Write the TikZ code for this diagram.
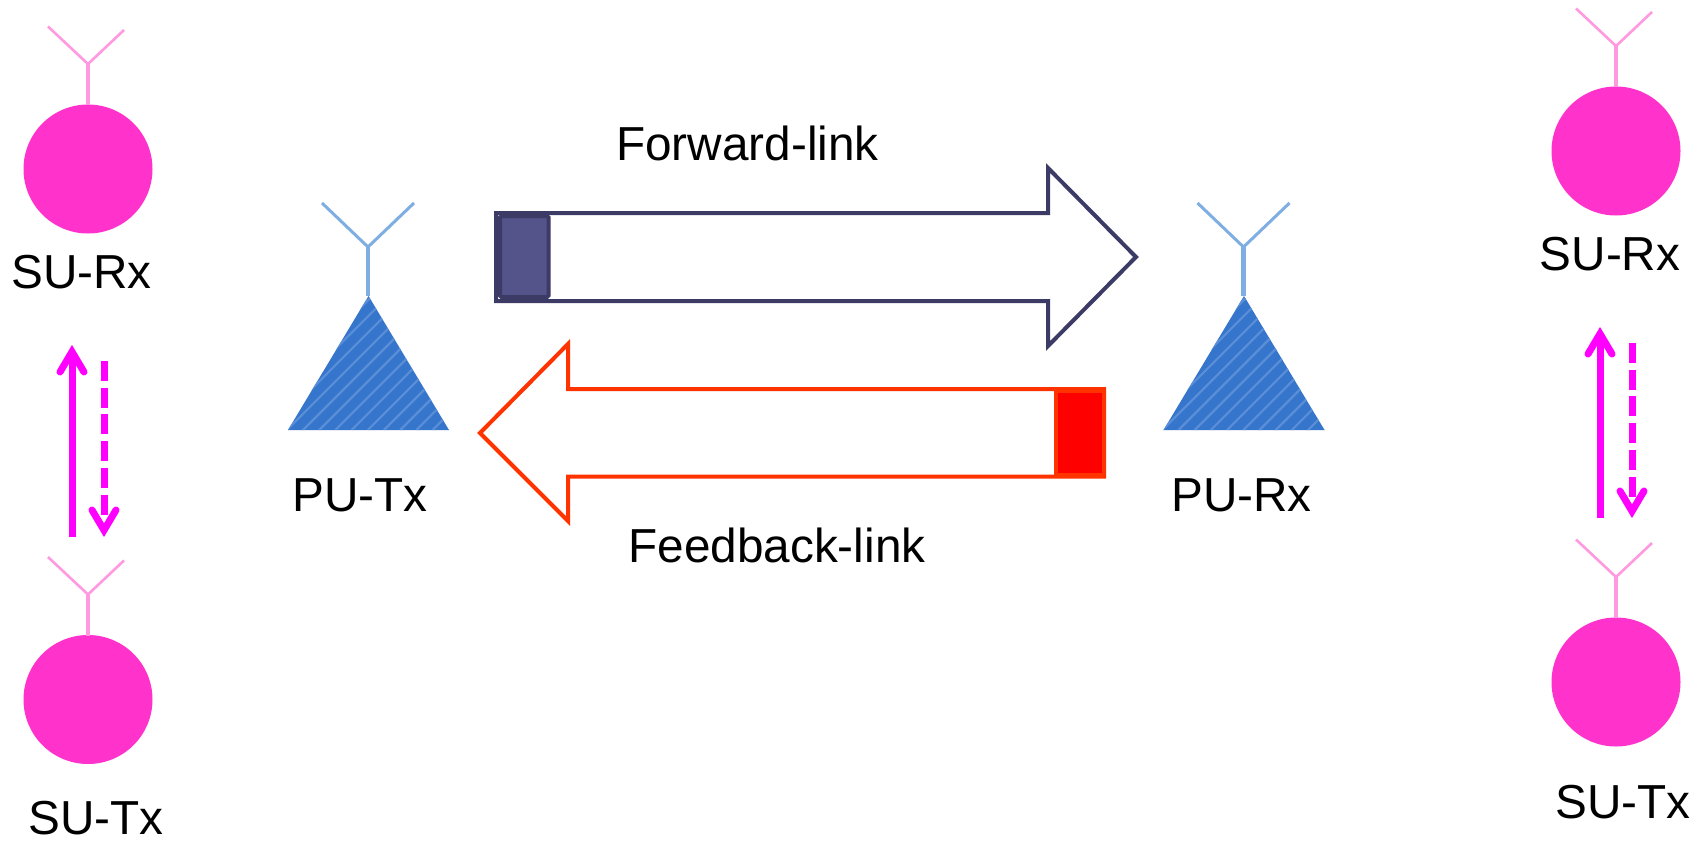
\documentclass[tikz,border=0pt]{standalone}
\usepackage{fontspec}
\setmainfont{Liberation Sans}
\definecolor{puFill}{HTML}{3575CC}
\definecolor{puHatch}{HTML}{5A8FD8}
\definecolor{puAnt}{HTML}{7FAEE3}
\definecolor{suFill}{HTML}{FF33CC}
\definecolor{suAnt}{HTML}{FF99E0}
\definecolor{linkMag}{HTML}{FF00FF}
\definecolor{fwdLine}{HTML}{3B3B65}
\definecolor{fwdFill}{HTML}{55548A}
\definecolor{fbLine}{HTML}{FF3300}
\definecolor{fbFill}{HTML}{FF0000}
\tikzset{
  x=1pt,y=-1pt,
  lbl/.style={font=\fontsize{47.7}{50}\selectfont,text=black,inner sep=0pt},
  bigarrow/.style={line width=4pt,fill=white,miter limit=10},
  magsolid/.style={draw=linkMag,line width=7pt},
  magdash/.style={magsolid,dash pattern=on 20pt off 6.7pt},
  maghead/.style={draw=linkMag,line width=7pt,line cap=round,line join=miter,miter limit=10},
  pu/.pic={
    \begin{scope}
      \clip (-80,134) -- (0.5,0) -- (81,134) -- cycle;
      \fill[puFill] (-81,-1) rectangle (82,135);
      \foreach \k in {0,...,16}
        \draw[puHatch,line width=2.2pt] ({-65+16.2*\k},134) -- ({-65+16.2*\k+136},-2);
      \foreach \k in {1,...,8}
        \draw[puHatch,line width=2.2pt] ({-65-16.2*\k},134) -- ({-65-16.2*\k+136},-2);
    \end{scope}
    \draw[puAnt,line width=4.5pt] (0,0) -- (0,-49);
    \draw[puAnt,line width=3pt,line join=miter] (-46,-93) -- (0,-49) -- (46,-93);
  },
  su/.pic={
    \fill[suFill] (0,0) circle[radius=64.5];
    \draw[suAnt,line width=4pt] (0,-64) -- (0,-105);
    \draw[suAnt,line width=2.6pt] (-40,-142.5) -- (0,-105) -- (36,-139);
  }
}
\begin{document}
\begin{tikzpicture}
\useasboundingbox (0,0) rectangle (1706,841);
\fill[white] (0,0) rectangle (1706,841);

% primary users
\pic at (368,296) {pu};
\pic at (1243.5,296) {pu};

% secondary users
\pic at (88,169) {su};
\pic at (88,699.5) {su};
\pic at (1616,151) {su};
\pic at (1616,682) {su};

% forward link
\draw[fwdLine,bigarrow] (496,213) -- (1048,213) -- (1048,168) -- (1136,257) -- (1048,346) -- (1048,301) -- (496,301) -- cycle;
\draw[draw=fwdLine,fill=fwdFill,line width=4pt,rounded corners=1.5pt] (500,216) rectangle (548.5,297);

% feedback link
\draw[fbLine,bigarrow] (1104,389) -- (568,389) -- (568,344) -- (480,433) -- (568,521) -- (568,476.5) -- (1104,476.5) -- cycle;
\draw[draw=fbLine,fill=fbFill,line width=4pt] (1056,391) rectangle (1104,475);

% secondary links
\coordinate (lu0) at (72,537);   \coordinate (lu1) at (72,351.8);
\coordinate (ld0) at (104,361);  \coordinate (ld1) at (104,514.5); \coordinate (ldt) at (104,530.2);
\coordinate (ru0) at (1600,518); \coordinate (ru1) at (1600,333.8);
\coordinate (rd0) at (1632,343); \coordinate (rd1) at (1632,496.5); \coordinate (rdt) at (1632,511.2);
\draw[magsolid] (lu0) -- (lu1);
\draw[maghead] ([shift={(-12,20.2)}]lu1) -- (lu1) -- ([shift={(12,20.2)}]lu1);
\draw[magdash] (ld0) -- (ld1);
\draw[maghead] ([shift={(-12,-20.2)}]ldt) -- (ldt) -- ([shift={(12,-20.2)}]ldt);
\draw[magsolid] (ru0) -- (ru1);
\draw[maghead] ([shift={(-12,20.2)}]ru1) -- (ru1) -- ([shift={(12,20.2)}]ru1);
\draw[magdash] (rd0) -- (rd1);
\draw[maghead] ([shift={(-12,-20.2)}]rdt) -- (rdt) -- ([shift={(12,-20.2)}]rdt);

% labels
\node[lbl] (fwd) at (747.5,143.5) {Forward-link};
\node[lbl] (fb) at (777,545) {Feedback-link};
\node[lbl] (putx) at (360,495) {PU-Tx};
\node[lbl] (purx) at (1241.5,495) {PU-Rx};
\node[lbl] (surxl) at (81.5,272.5) {SU-Rx};
\node[lbl] (sutxl) at (96,818.5) {SU-Tx};
\node[lbl] (surxr) at (1610,254.5) {SU-Rx};
\node[lbl] (sutxr) at (1623,802) {SU-Tx};
\end{tikzpicture}
\end{document}
